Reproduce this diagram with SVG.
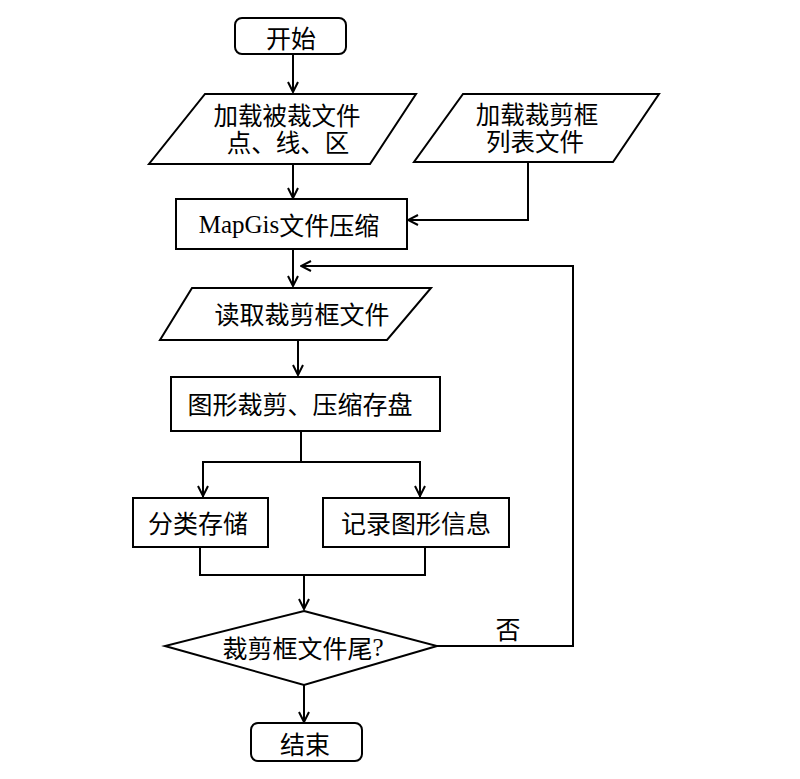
<svg xmlns="http://www.w3.org/2000/svg" width="800" height="779" viewBox="0 0 800 779">
<style>
.s{fill:#fff;stroke:#000;stroke-width:2}
.t{font-family:"Noto Sans CJK SC","Liberation Serif",sans-serif;font-size:25px;fill:#000;text-anchor:middle;dominant-baseline:central}
.m{font-family:"Liberation Sans","Noto Sans CJK SC",sans-serif;font-size:24.5px}
.c{fill:none;stroke:#000;stroke-width:2}
</style>
<defs>
<marker id="a" markerUnits="userSpaceOnUse" markerWidth="12" markerHeight="12" viewBox="0 0 12 12" refX="11" refY="6" orient="auto">
<path d="M1,1 L11,6 L1,11" fill="none" stroke="#000" stroke-width="2"/>
</marker>
</defs>
<rect width="800" height="779" fill="#fff"/>
<g id="connectors">
<path class="c" d="M293,54 V92" marker-end="url(#a)"/>
<path class="c" d="M293,164 V198" marker-end="url(#a)"/>
<path class="c" d="M528,162 V220 H408" marker-end="url(#a)"/>
<path class="c" d="M293,249 V286" marker-end="url(#a)"/>
<path class="c" d="M298,340 V375" marker-end="url(#a)"/>
<path class="c" d="M301,431 V462"/>
<path class="c" d="M203,497 V462 H420 V497"/>
<path class="c" d="M203,462 V496" marker-end="url(#a)"/>
<path class="c" d="M420,462 V496" marker-end="url(#a)"/>
<path class="c" d="M200,547 V575 H425 V547"/>
<path class="c" d="M304,575 V609" marker-end="url(#a)"/>
<path class="c" d="M437,646 H573 V266 H301" marker-end="url(#a)"/>
<path class="c" d="M304,685 V722" marker-end="url(#a)"/>
</g>
<g id="start">
<rect class="s" x="235" y="18" width="111" height="36" rx="7"/>
<text class="t" x="291" y="37">开始</text>
</g>
<g id="load-clipped">
<polygon class="s" points="205,94 416,94 370,164 149,164"/>
<text class="t m" x="287" y="116">加载被裁文件</text>
<text class="t m" x="288" y="143">点、线、区</text>
</g>
<g id="load-list">
<polygon class="s" points="463,94 659,94 613,162 414,162"/>
<text class="t m" x="537" y="115">加载裁剪框</text>
<text class="t m" x="535" y="142">列表文件</text>
</g>
<g id="compress">
<rect class="s" x="176" y="199" width="231" height="50"/>
<text class="t" x="289" y="224"><tspan font-family="Liberation Serif,serif">MapGis</tspan>文件压缩</text>
</g>
<g id="read-frame">
<polygon class="s" points="192,288 431,288 387,340 160,340"/>
<text class="t" x="302" y="313">读取裁剪框文件</text>
</g>
<g id="clip">
<rect class="s" x="171" y="377" width="269" height="54"/>
<text class="t" x="300" y="403">图形裁剪、压缩存盘</text>
</g>
<g id="store">
<rect class="s" x="133" y="498" width="135" height="49"/>
<text class="t" x="198" y="522">分类存储</text>
</g>
<g id="record">
<rect class="s" x="323" y="498" width="186" height="49"/>
<text class="t" x="416" y="522">记录图形信息</text>
</g>
<g id="decision">
<polygon class="s" points="304,611 437,646 304,685 165,646"/>
<text class="t" x="303" y="647">裁剪框文件尾<tspan font-family="Liberation Serif,serif">?</tspan></text>
<text class="t" x="508" y="628">否</text>
</g>
<g id="end">
<rect class="s" x="251" y="723" width="111" height="38" rx="7"/>
<text class="t" x="305" y="743">结束</text>
</g>
</svg>
